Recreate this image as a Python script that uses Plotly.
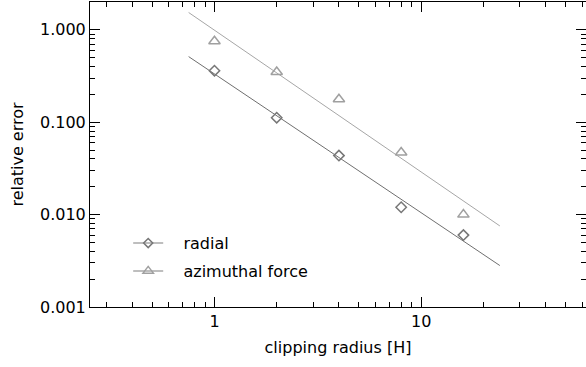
import plotly.graph_objects as go

# data
clip_radius = [1, 2, 4, 8, 16]
radial_err = [0.361, 0.112, 0.0435, 0.012, 0.006]
azimuthal_err = [0.753, 0.35, 0.177, 0.047, 0.010]
fit_x = [0.75, 24]
radial_fit = [0.513, 0.00281]
azimuthal_fit = [1.54, 0.00754]
ytick_vals = [0.001, 0.01, 0.1, 1.0]
ytick_text = ["0.001", "0.010", "0.100", "1.000"]
xtick_vals = [1, 10]
xtick_text = ["1", "10"]
legend_names = ["\u00a0\u00a0\u00a0radial", "\u00a0\u00a0\u00a0azimuthal force"]

dark = "#6f6f6f"
dark_m = "#777777"
light = "#a6a6a6"
light_m = "#a0a0a0"
font = "DejaVu Sans ExtraLight, DejaVu Sans"

fig = go.Figure()
fig.add_trace(go.Scatter(x=fit_x, y=radial_fit, mode="lines",
                         line=dict(color=dark, width=1), showlegend=False))
fig.add_trace(go.Scatter(x=fit_x, y=azimuthal_fit, mode="lines",
                         line=dict(color=light, width=1), showlegend=False))
fig.add_trace(go.Scatter(x=clip_radius, y=radial_err, mode="markers",
                         marker=dict(symbol="diamond-open", size=8, color=dark_m,
                                     line=dict(width=1.5, color=dark_m)),
                         showlegend=False))
fig.add_trace(go.Scatter(x=clip_radius, y=azimuthal_err, mode="markers",
                         marker=dict(symbol="triangle-up-open", size=10, color=light_m,
                                     line=dict(width=1.5, color=light_m)),
                         showlegend=False))
# legend-only entries
fig.add_trace(go.Scatter(x=[None], y=[None], mode="lines+markers", name=legend_names[0],
                         legendgroup="a",
                         line=dict(color="#a8a8a8", width=1.5),
                         marker=dict(symbol="diamond-open", size=7, color=dark_m,
                                     line=dict(width=1.5, color=dark_m))))
fig.add_trace(go.Scatter(x=[None], y=[None], mode="lines+markers", name=legend_names[1],
                         legendgroup="b",
                         line=dict(color="#a8a8a8", width=1.5),
                         marker=dict(symbol="triangle-up-open", size=9, color=light_m,
                                     line=dict(width=1.5, color=light_m))))

fig.update_layout(
    width=586, height=367,
    margin=dict(l=90, r=0, t=2, b=60),
    paper_bgcolor="white", plot_bgcolor="white",
    font=dict(family=font, size=16, color="black"),
    showlegend=True,
    legend=dict(x=0.077, y=0.265, xanchor="left", yanchor="top",
                bgcolor="rgba(0,0,0,0)", tracegroupgap=4,
                font=dict(size=16), itemwidth=30),
    xaxis=dict(type="log", range=[-0.602, 1.797],
               tickvals=xtick_vals, ticktext=xtick_text,
               ticks="inside", ticklen=10, tickcolor="black", tickwidth=1,
               showline=True, linecolor="black", linewidth=1, mirror="ticks",
               showgrid=False, zeroline=False,
               minor=dict(ticks="inside", ticklen=5, tickcolor="black",
                          dtick="D1", showgrid=False),
               title=dict(text="clipping radius [H]", standoff=11, font=dict(size=16))),
    yaxis=dict(type="log", range=[-3, 0.301],
               tickvals=ytick_vals, ticktext=ytick_text,
               ticks="inside", ticklen=10, tickcolor="black", tickwidth=1,
               showline=True, linecolor="black", linewidth=1, mirror="ticks",
               showgrid=False, zeroline=False,
               minor=dict(ticks="inside", ticklen=5, tickcolor="black",
                          dtick="D1", showgrid=False),
               title=dict(text="relative error", standoff=12, font=dict(size=16))),
)

fig.write_html("out.html")
